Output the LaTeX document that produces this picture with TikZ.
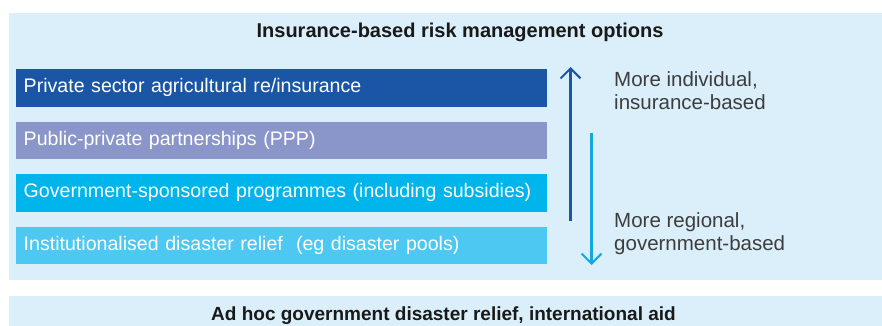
\documentclass[tikz,border=0pt]{standalone}
\usepackage{fontspec}
\setmainfont{Liberation Sans}
\usetikzlibrary{arrows.meta}
\definecolor{panelbg}{HTML}{DAEFFA}
\definecolor{boxA}{HTML}{1A56A5}
\definecolor{boxB}{HTML}{8A95CA}
\definecolor{boxC}{HTML}{00B5EB}
\definecolor{boxD}{HTML}{4DC8F2}
\definecolor{arrUp}{HTML}{1A56A5}
\definecolor{arrDown}{HTML}{12A9E2}
\definecolor{sidetext}{HTML}{3D3D3D}
\tikzset{
  panel/.style={fill=panelbg, draw=none},
  optbox/.style={anchor=north west, minimum width=530pt, minimum height=37.5pt,
    text width=516pt, align=left, inner xsep=7.5pt, inner ysep=0pt, text=white,
    text height=14pt, text depth=4.6pt,
    font=\fontsize{19.6}{22}\selectfont},
  heading/.style={anchor=base, text=black!90, inner sep=0pt},
  sidelabel/.style={anchor=north west, align=left, text=sidetext, inner sep=0pt,
    font=\fontsize{20.5}{23.3}\selectfont},
  dirarrow/.style={line width=2.2pt, -{Straight Barb[length=10pt,width=20pt,line width=2pt]}}
}
\begin{document}
\begin{tikzpicture}[x=1pt,y=-1pt]
\useasboundingbox (0,0) rectangle (882,326);
\fill[panel] (9,13) rectangle (882,280);
\fill[panel] (9,296) rectangle (882,326);
\node[heading, font=\bfseries\fontsize{20}{24}\selectfont] (title) at (460,37.7) {Insurance-based risk management options};
\node[heading, font=\bfseries\fontsize{19}{23}\selectfont] (bottom) at (443.5,320.7) {Ad hoc government disaster relief, international aid};
\node[optbox, fill=boxA] (b1) at (16,69) {Private sector agricultural re/insurance};
\node[optbox, fill=boxB] (b2) at (16,121.5) {Public-private partnerships (PPP)};
\node[optbox, fill=boxC] (b3) at (16,174) {Government-sponsored programmes (including subsidies)};
\node[optbox, fill=boxD] (b4) at (16,226.5) {Institutionalised disaster relief\ \ (eg disaster pools)};
\coordinate (upS) at (570.5,221);
\coordinate (upE) at (570.5,67);
\coordinate (dnS) at (591.5,133);
\coordinate (dnE) at (591.5,265);
\draw[dirarrow, arrUp] (upS) -- (upE);
\draw[dirarrow, arrDown] (dnS) -- (dnE);
\node[sidelabel] (lab1) at (614,71.5) {More individual,\\insurance-based};
\node[sidelabel] (lab2) at (614,212.5) {More regional,\\government-based};
\end{tikzpicture}
\end{document}
